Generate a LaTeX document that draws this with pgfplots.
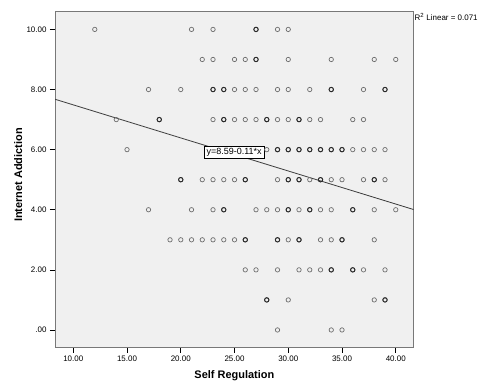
\documentclass[border=0pt]{standalone}
\usepackage{fontspec}
\setmainfont{Liberation Sans}
\usepackage{pgfplots}
\pgfplotsset{compat=1.18}
\definecolor{bgc}{RGB}{240,240,240}
\definecolor{framec}{RGB}{120,120,120}
\definecolor{ptc}{RGB}{110,110,110}
\definecolor{ptd}{RGB}{40,40,40}
\definecolor{linec}{RGB}{60,60,60}
\begin{document}
\begin{tikzpicture}
\path[use as bounding box] (0bp,0bp) rectangle (480bp,381bp);
\begin{axis}[
  at={(55bp,33.3bp)}, anchor=south west,
  scale only axis, width=358.7bp, height=335.7bp,
  xmin=8.3, xmax=41.67, ymin=-0.59, ymax=10.58,
  axis background/.style={fill=bgc},
  axis line style={draw=framec, line width=1bp},
  xtick={10,15,20,25,30,35,40},
  xticklabels={10.00,15.00,20.00,25.00,30.00,35.00,40.00},
  ytick={0,2,4,6,8,10},
  yticklabels={.00,2.00,4.00,6.00,8.00,10.00},
  xtick pos=bottom, ytick pos=left,
  tick align=outside, major tick length=5bp,
  tick style={draw=black, line width=0.6bp},
  ticklabel style={font=\fontsize{8}{9}\selectfont},
  /pgf/number format/assume math mode=true,
  xlabel={Self Regulation}, ylabel={Internet Addiction},
  label style={font=\bfseries\fontsize{11}{12}\selectfont},
  xlabel style={at={(axis description cs:0.5,-0.0917)}, anchor=base},
  ylabel style={at={(axis description cs:-0.1023,0.5145)}, anchor=center},
  clip=true,
]
% regression line
\addplot[linec, line width=0.8bp, no marks] coordinates {(8.3,7.677) (41.67,4.006)};
% all points
\addplot[only marks, mark=o, mark size=2.2bp, mark options={draw=ptc, line width=0.7bp}] coordinates {
(12,10)(21,10)(23,10)(27,10)(29,10)(30,10)
(22,9)(23,9)(25,9)(26,9)(27,9)(30,9)(34,9)(38,9)(40,9)
(17,8)(20,8)(23,8)(24,8)(25,8)(26,8)(27,8)(29,8)(30,8)(32,8)(34,8)(37,8)(39,8)
(14,7)(18,7)(23,7)(24,7)(25,7)(26,7)(27,7)(28,7)(29,7)(30,7)(31,7)(32,7)(33,7)(36,7)(37,7)
(15,6)(28,6)(29,6)(30,6)(31,6)(32,6)(33,6)(34,6)(35,6)(36,6)(37,6)(38,6)(39,6)
(20,5)(22,5)(23,5)(24,5)(25,5)(26,5)(29,5)(30,5)(31,5)(32,5)(33,5)(34,5)(35,5)(37,5)(38,5)(39,5)
(17,4)(21,4)(23,4)(24,4)(27,4)(28,4)(29,4)(30,4)(31,4)(32,4)(33,4)(34,4)(36,4)(38,4)(40,4)
(19,3)(20,3)(21,3)(22,3)(23,3)(24,3)(25,3)(26,3)(29,3)(30,3)(31,3)(33,3)(34,3)(35,3)(38,3)
(26,2)(27,2)(29,2)(31,2)(32,2)(33,2)(34,2)(36,2)(37,2)(39,2)
(28,1)(30,1)(38,1)(39,1)
(29,0)(34,0)(35,0)
};
% overlapping (darker) points
\addplot[only marks, mark=o, mark size=2.2bp, mark options={draw=ptd, line width=0.9bp}] coordinates {
(27,10)(27,9)
(23,8)(24,8)(34,8)(39,8)
(18,7)(24,7)(28,7)(31,7)
(29,6)(30,6)(31,6)(32,6)(33,6)(34,6)(35,6)
(20,5)(26,5)(30,5)(31,5)(33,5)(38,5)
(24,4)(30,4)(32,4)(36,4)
(26,3)(29,3)(31,3)(35,3)
(34,2)(36,2)
(28,1)(39,1)
};
\node[draw=black, fill=white, line width=0.5bp, inner xsep=2.2bp, inner ysep=2bp, font=\fontsize{9}{10}\selectfont] at (axis cs:24.97,5.9) {y=8.59-0.11*x};
\end{axis}
\node[anchor=west, font=\fontsize{8}{9}\selectfont, inner sep=0pt] at (414.5bp,364bp) {R\textsuperscript{2} Linear = 0.071};
\end{tikzpicture}
\end{document}
